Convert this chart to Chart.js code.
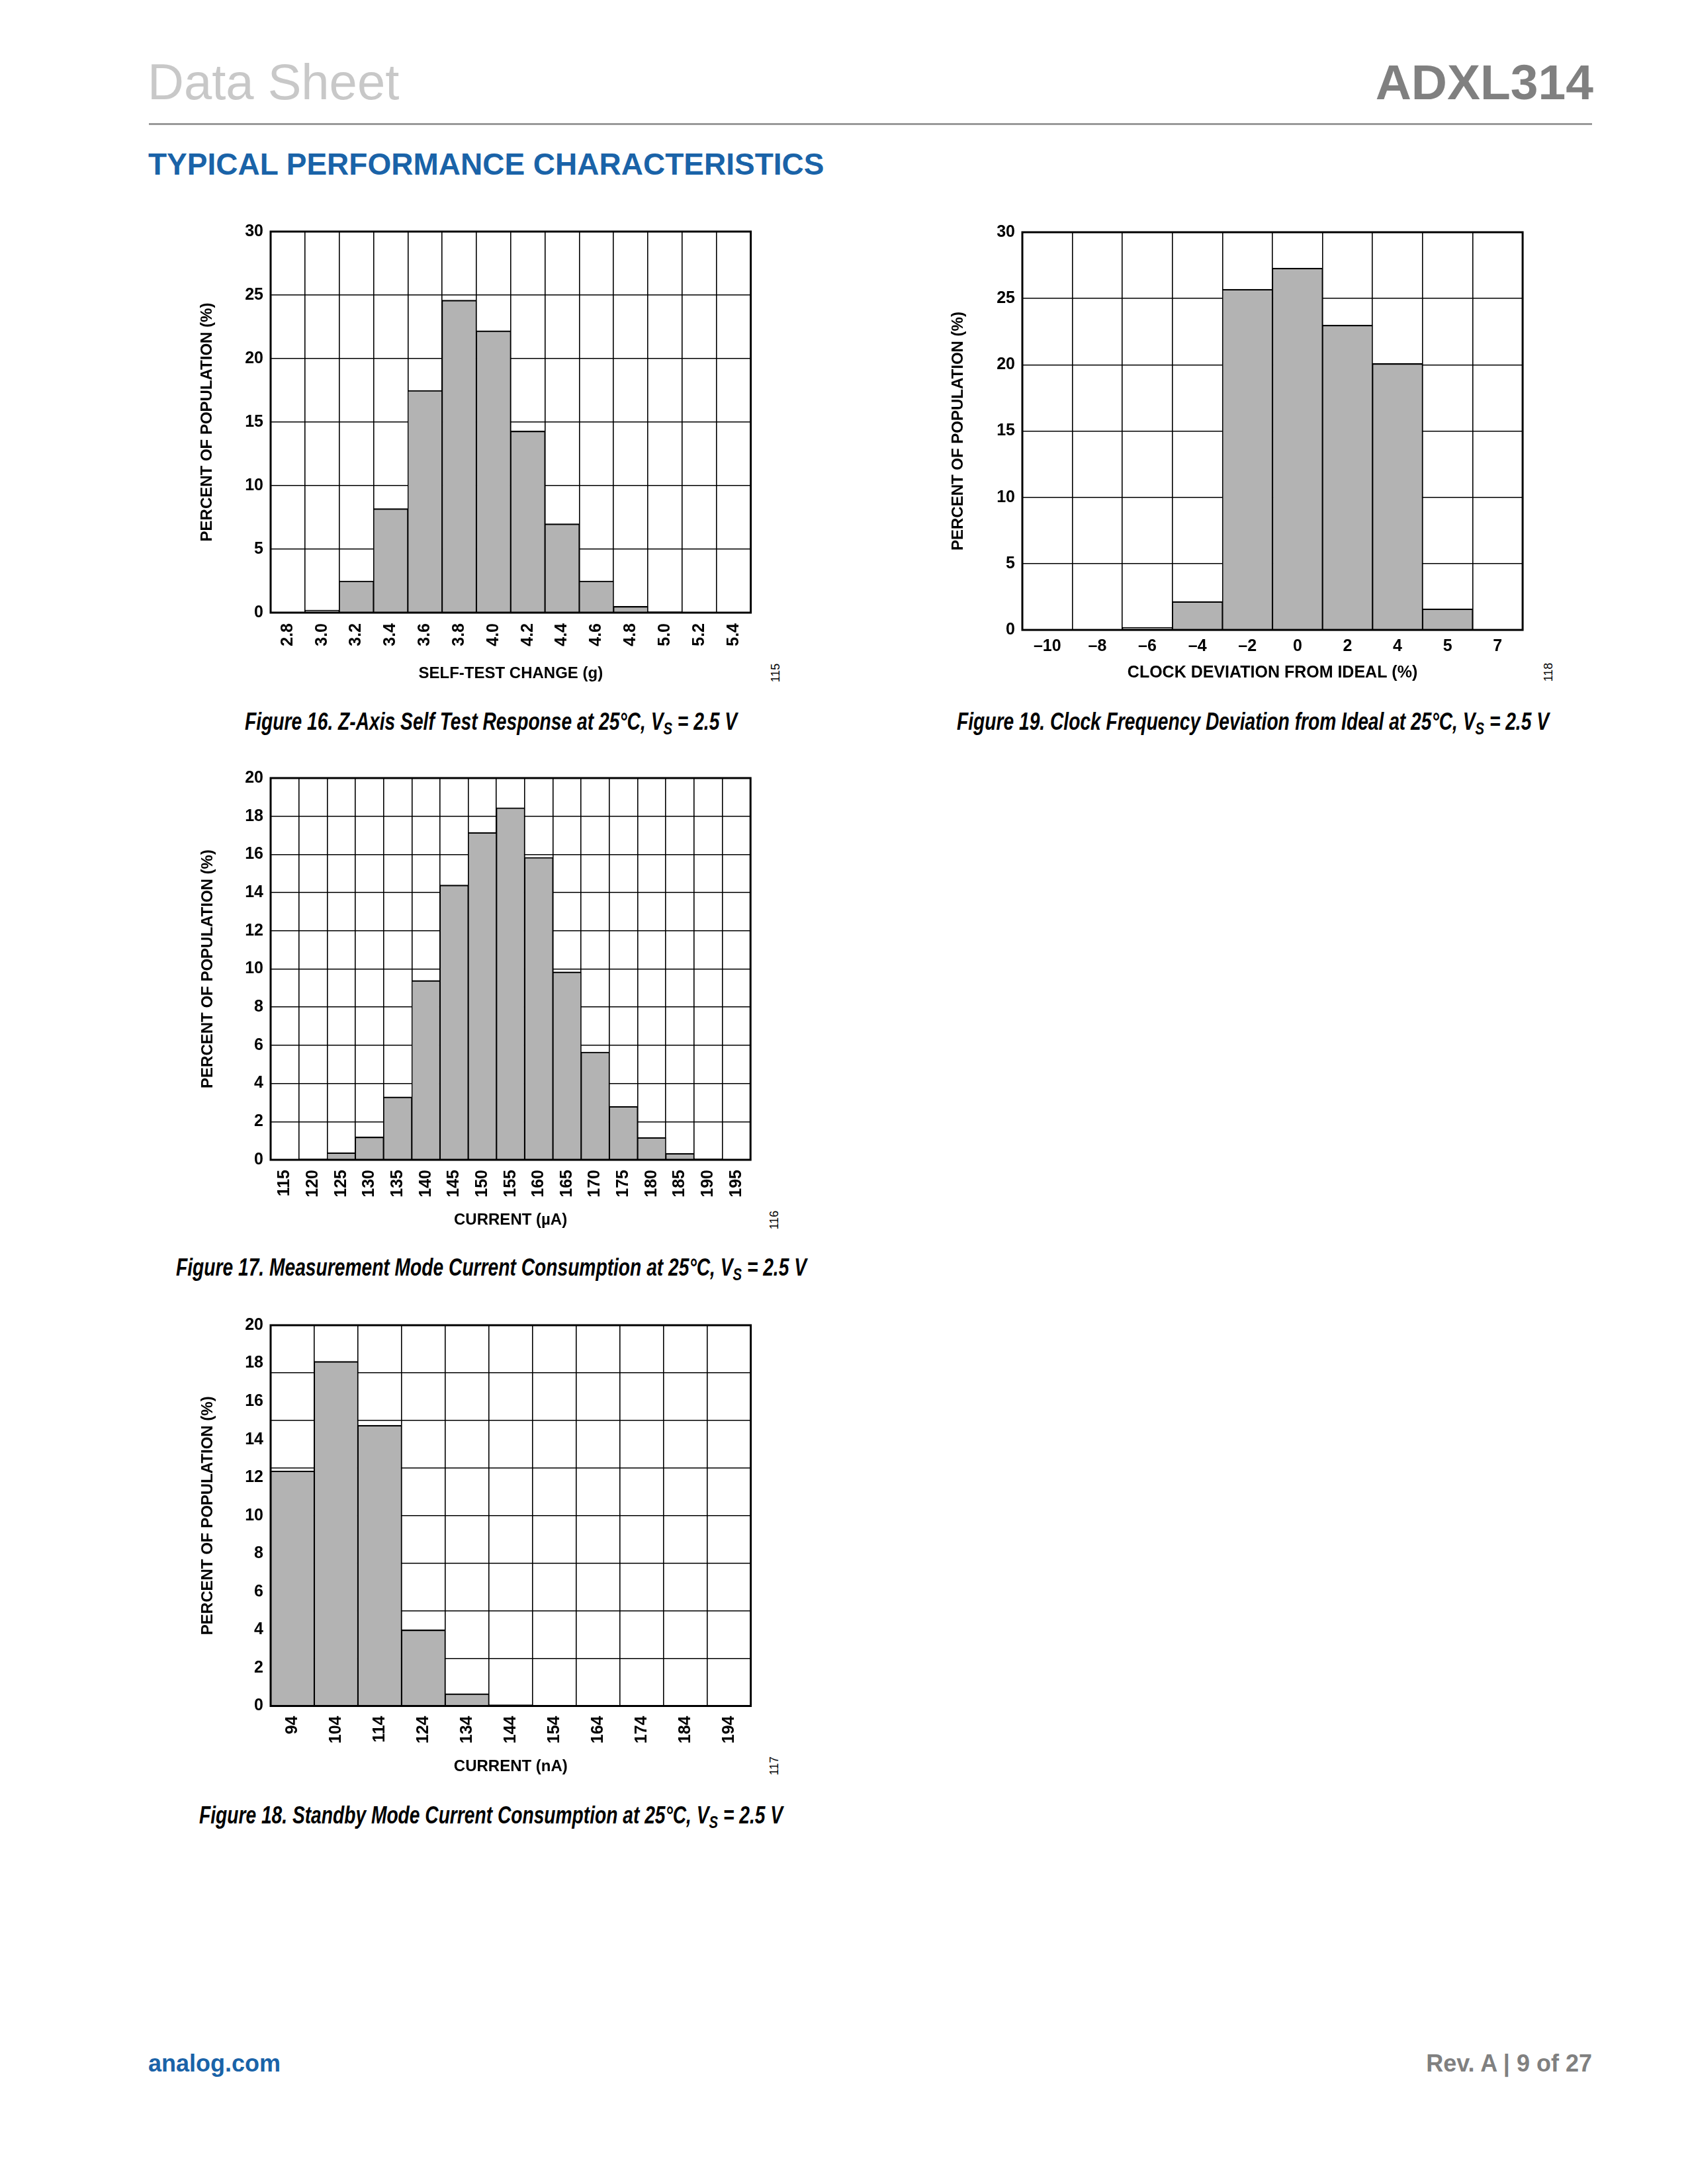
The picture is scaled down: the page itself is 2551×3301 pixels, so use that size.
<!DOCTYPE html>
<html>
<head>
<meta charset="utf-8">
<title>ADXL314 Typical Performance Characteristics</title>
<script src="https://cdn.jsdelivr.net/npm/chart.js@4.4.1/dist/chart.umd.min.js"></script>
<style>
  html, body { margin: 0; padding: 0; background: #fff; }
  body { width: 2551px; height: 3301px; position: relative; overflow: hidden;
         font-family: 'Liberation Sans', Arial, sans-serif; }
  .abs { position: absolute; white-space: nowrap; }
  .hdr-left { left: 223px; top: 86px; font-size: 76px; line-height: 76px; color: #c8c8c8; }
  .hdr-right { right: 143px; top: 87px; font-size: 75px; line-height: 75px; color: #808080; font-weight: bold; }
  .rule { left: 225px; top: 186px; width: 2181px; height: 3px; background: #999; }
  .section { left: 224px; top: 225px; font-size: 46px; line-height: 46px; color: #1a63a8; font-weight: bold; }
  .cap { font-weight: bold; font-style: italic; font-size: 37px; line-height: 37px; color: #000;
         transform-origin: 0 50%; }
  .cap sub { font-size: 0.72em; vertical-align: -0.28em; line-height: 0; }
  .code { font-size: 18px; line-height: 18px; color: #000; transform: translate(-50%, -50%) rotate(-90deg); }
  .foot-left { left: 224px; top: 3101px; font-size: 36px; line-height: 36px; color: #1a63a8; font-weight: bold; }
  .foot-right { right: 145px; top: 3101px; font-size: 36px; line-height: 36px; color: #808080; font-weight: bold; }
  .chart-box { position: absolute; }
</style>
</head>
<body>
<div class="abs hdr-left">Data Sheet</div>
<div class="abs hdr-right">ADXL314</div>
<div class="abs rule"></div>
<div class="abs section">TYPICAL PERFORMANCE CHARACTERISTICS</div>

<div class="chart-box" id="box16"><canvas id="fig16"></canvas></div>
<div class="chart-box" id="box17"><canvas id="fig17"></canvas></div>
<div class="chart-box" id="box18"><canvas id="fig18"></canvas></div>
<div class="chart-box" id="box19"><canvas id="fig19"></canvas></div>

<div class="abs code" style="left:1172px; top:1017px;">115</div>
<div class="abs code" style="left:1170px; top:1844px;">116</div>
<div class="abs code" style="left:1170px; top:2669px;">117</div>
<div class="abs code" style="left:2340px; top:1016px;">118</div>

<div class="abs cap" data-cx="742" data-w="744" style="top:1072px;">Figure 16. Z-Axis Self Test Response at 25°C, V<sub>S</sub> = 2.5 V</div>
<div class="abs cap" data-cx="742" data-w="953" style="top:1897px;">Figure 17. Measurement Mode Current Consumption at 25°C, V<sub>S</sub> = 2.5 V</div>
<div class="abs cap" data-cx="742" data-w="882" style="top:2725px;">Figure 18. Standby Mode Current Consumption at 25°C, V<sub>S</sub> = 2.5 V</div>
<div class="abs cap" data-cx="1893" data-w="895" style="top:1072px;">Figure 19. Clock Frequency Deviation from Ideal at 25°C, V<sub>S</sub> = 2.5 V</div>

<div class="abs foot-left">analog.com</div>
<div class="abs foot-right">Rev. A | 9 of 27</div>

<script>
// ---- data ----
const fig16Labels = ['2.8', '3.0', '3.2', '3.4', '3.6', '3.8', '4.0', '4.2', '4.4', '4.6', '4.8', '5.0', '5.2', '5.4'];
const fig16Values = [0.05, 0.2, 2.5, 8.2, 17.5, 24.6, 22.2, 14.3, 7.0, 2.5, 0.5, 0.1, 0, 0];
const fig16YTicks = [0, 5, 10, 15, 20, 25, 30];

const fig17Labels = ['115', '120', '125', '130', '135', '140', '145', '150', '155', '160', '165', '170', '175', '180', '185', '190', '195'];
const fig17Values = [0, 0.05, 0.38, 1.2, 3.3, 9.4, 14.4, 17.15, 18.45, 15.85, 9.85, 5.65, 2.8, 1.17, 0.34, 0.07, 0.03];
const fig17YTicks = [0, 2, 4, 6, 8, 10, 12, 14, 16, 18, 20];

const fig18Labels = ['94', '104', '114', '124', '134', '144', '154', '164', '174', '184', '194'];
const fig18Values = [12.35, 18.1, 14.75, 4.0, 0.65, 0.07, 0, 0, 0, 0, 0];
const fig18YTicks = [0, 2, 4, 6, 8, 10, 12, 14, 16, 18, 20];
const fig18YGrid = [0, 2.5, 5, 7.5, 10, 12.5, 15, 17.5, 20];

const fig19Labels = ['–10', '–8', '–6', '–4', '–2', '0', '2', '4', '5', '7'];
const fig19Values = [0, 0, 0.2, 2.15, 25.7, 27.3, 23.0, 20.1, 1.6, 0];
const fig19YTicks = [0, 5, 10, 15, 20, 25, 30];

// ---- layout (page pixels) ----
const FONT = "'Liberation Sans', Arial, sans-serif";
const Y_AXIS_W = 130;
const PAD_TOP = 24;
const PAD_RIGHT = 24;
const BELOW_TITLE = 40;

Chart.defaults.color = '#000';
Chart.defaults.font.family = FONT;

// captions are set in a condensed italic: squeeze to the measured width
document.querySelectorAll('.cap').forEach(el => {
  const w = el.getBoundingClientRect().width;
  const k = Number(el.dataset.w) / w;
  el.style.left = (Number(el.dataset.cx) - Number(el.dataset.w) / 2) + 'px';
  el.style.transform = 'scaleX(' + k + ')';
});

// heavy box round the plot area
const framePlugin = {
  id: 'frame',
  afterDraw(chart) {
    const { ctx, chartArea: a } = chart;
    ctx.save();
    ctx.lineWidth = 3;
    ctx.strokeStyle = '#000';
    ctx.strokeRect(a.left, a.top, a.right - a.left, a.bottom - a.top);
    ctx.restore();
  }
};

function makeHist(canvasId, boxId, o) {
  const b = o.box;
  const left = b.left - Y_AXIS_W;
  const top = b.top - PAD_TOP;
  const el = document.getElementById(boxId);
  el.style.left = left + 'px';
  el.style.top = top + 'px';
  el.style.width = (b.right + PAD_RIGHT - left) + 'px';
  el.style.height = (b.xTitleY + BELOW_TITLE - top) + 'px';

  const gridVals = o.yGrid || o.yTicks;
  const allVals = Array.from(new Set(o.yTicks.concat(gridVals))).sort((p, q) => p - q);
  const yTitleLH = 24 * 1.2;
  const xTitleLH = o.xTitleSize * 1.2;

  return new Chart(document.getElementById(canvasId), {
    type: 'bar',
    data: {
      labels: o.labels,
      datasets: [{
        data: o.values,
        backgroundColor: '#b3b3b3',
        borderColor: '#000',
        borderWidth: { top: 2.2, left: 1.4, right: 1.4, bottom: 0 },
        borderSkipped: 'start',
        barPercentage: 1,
        categoryPercentage: 1
      }]
    },
    options: {
      responsive: true,
      maintainAspectRatio: false,
      animation: false,
      layout: { padding: { top: PAD_TOP, right: PAD_RIGHT, left: 0, bottom: 0 } },
      plugins: { legend: { display: false }, tooltip: { enabled: false } },
      scales: {
        x: {
          type: 'category',
          offset: true,
          grid: { offset: true, color: '#000', lineWidth: 1.6, drawTicks: false },
          border: { display: false },
          ticks: {
            autoSkip: false,
            maxRotation: o.xRotate,
            minRotation: o.xRotate,
            padding: o.xPad,
            font: { family: FONT, size: 25, weight: 'bold' }
          },
          title: {
            display: true,
            text: o.xTitle,
            font: { family: FONT, size: o.xTitleSize, weight: 'bold' },
            padding: { top: 0, bottom: BELOW_TITLE - xTitleLH / 2 }
          },
          afterFit: (s) => { s.height = b.xTitleY + BELOW_TITLE - b.bottom; }
        },
        y: {
          type: 'linear',
          min: o.yTicks[0],
          max: o.yTicks[o.yTicks.length - 1],
          afterBuildTicks: (s) => { s.ticks = allVals.map(v => ({ value: v })); },
          grid: {
            color: (c) => gridVals.includes(c.tick.value) ? '#000' : 'rgba(0,0,0,0)',
            lineWidth: 1.6,
            drawTicks: false
          },
          border: { display: false },
          ticks: {
            autoSkip: false,
            padding: 11,
            font: { family: FONT, size: 25, weight: 'bold' },
            callback: (v) => o.yTicks.includes(v) ? String(v) : ''
          },
          title: {
            display: true,
            text: 'PERCENT OF POPULATION (%)',
            font: { family: FONT, size: 24, weight: 'bold' },
            padding: { top: b.yTitleX - left - yTitleLH / 2, bottom: 0 }
          },
          afterFit: (s) => { s.width = Y_AXIS_W; }
        }
      }
    },
    plugins: [framePlugin]
  });
}

makeHist('fig16', 'box16', {
  labels: fig16Labels, values: fig16Values, yTicks: fig16YTicks,
  xTitle: 'SELF-TEST CHANGE (g)', xTitleSize: 24, xRotate: 90, xPad: 16,
  box: { left: 408.6, top: 348, right: 1134.2, bottom: 926, yTitleX: 313, xTitleY: 1018 }
});

makeHist('fig17', 'box17', {
  labels: fig17Labels, values: fig17Values, yTicks: fig17YTicks,
  xTitle: 'CURRENT (µA)', xTitleSize: 24, xRotate: 90, xPad: 15,
  box: { left: 408.6, top: 1173.8, right: 1134.2, bottom: 1752.8, yTitleX: 314, xTitleY: 1844 }
});

makeHist('fig18', 'box18', {
  labels: fig18Labels, values: fig18Values, yTicks: fig18YTicks, yGrid: fig18YGrid,
  xTitle: 'CURRENT (nA)', xTitleSize: 24, xRotate: 90, xPad: 15,
  box: { left: 408.6, top: 2000.8, right: 1134.2, bottom: 2578.3, yTitleX: 314, xTitleY: 2670 }
});

makeHist('fig19', 'box19', {
  labels: fig19Labels, values: fig19Values, yTicks: fig19YTicks,
  xTitle: 'CLOCK DEVIATION FROM IDEAL (%)', xTitleSize: 25, xRotate: 0, xPad: 10,
  box: { left: 1545.4, top: 348.5, right: 2301.5, bottom: 951.6, yTitleX: 1448.5, xTitleY: 1017 }
});
</script>
</body>
</html>
